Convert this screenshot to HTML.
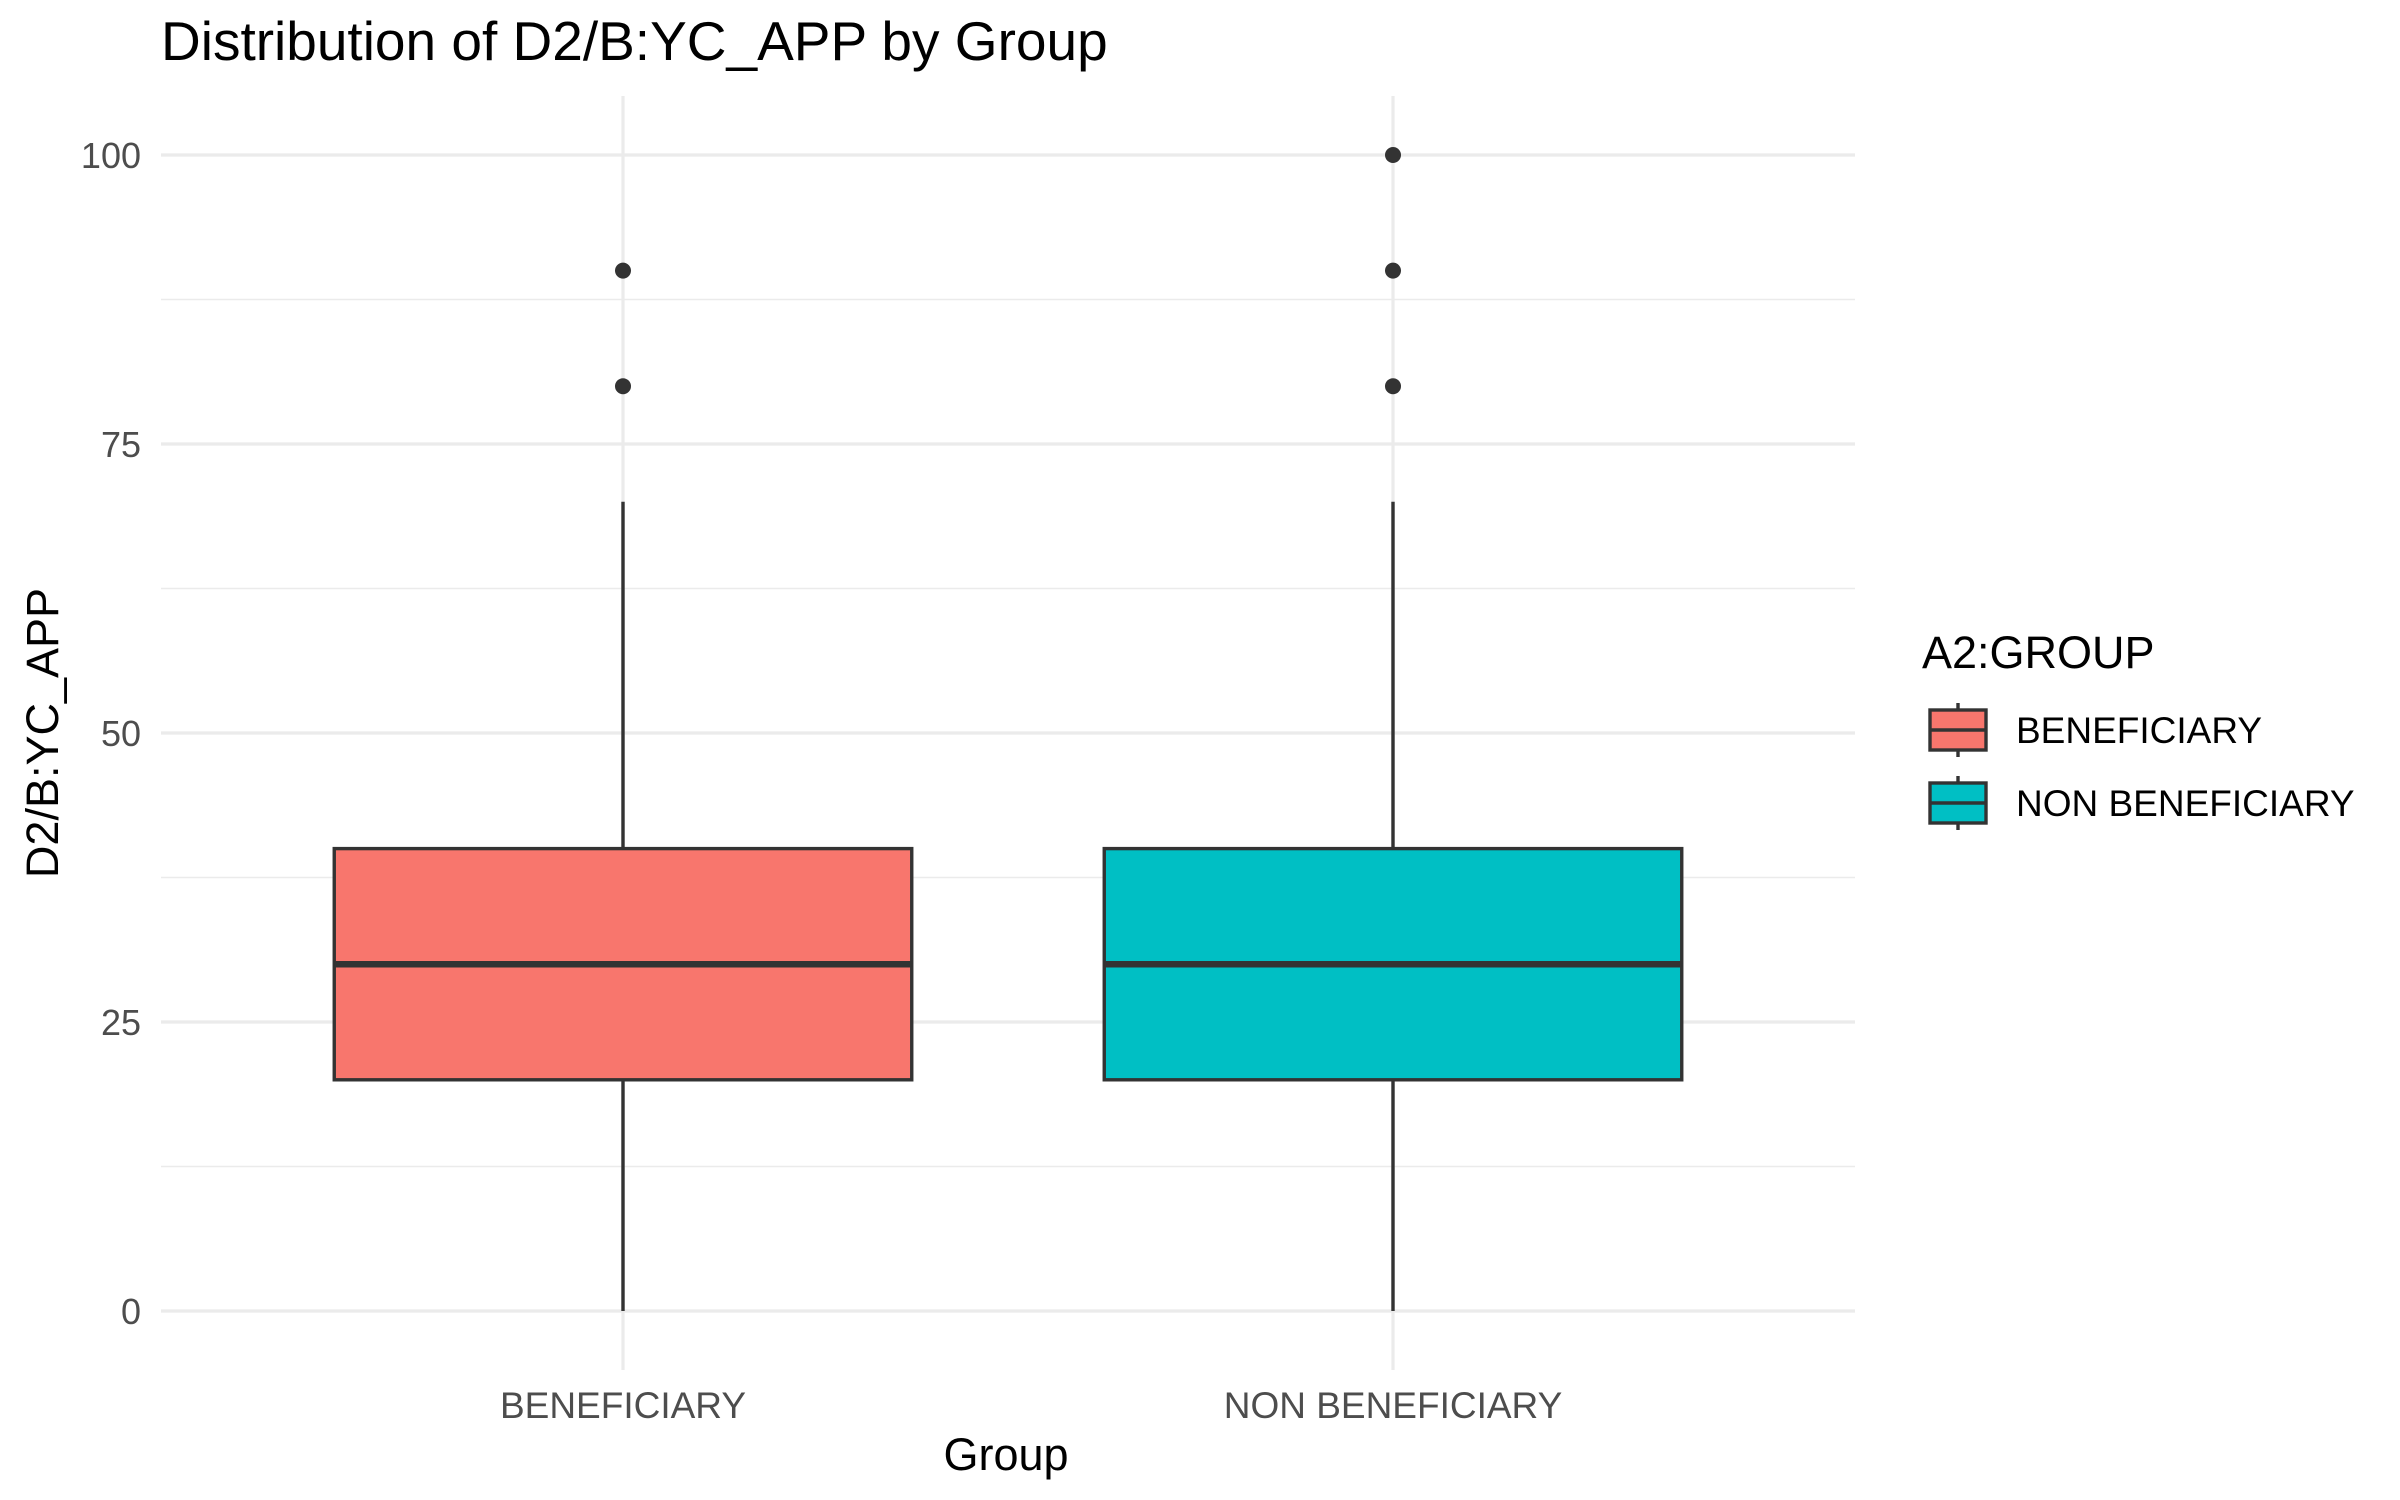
<!DOCTYPE html>
<html><head><meta charset="utf-8"><style>
body{margin:0;background:#fff;}
svg{display:block;font-family:"Liberation Sans",Arial,sans-serif;}
</style></head><body>
<svg id="chart" width="2400" height="1500" viewBox="0 0 2400 1500">
<rect width="2400" height="1500" fill="#fff"/>
<text x="161" y="60" font-size="55" fill="#000">Distribution of D2/B:YC_APP by Group</text>
<g id="grid"></g>
<g id="marks"></g>
<g id="axes"></g>
<text x="1006" y="1470" font-size="45" text-anchor="middle" fill="#000">Group</text>
<text transform="translate(58,733) rotate(-90)" font-size="45" text-anchor="middle" fill="#000">D2/B:YC_APP</text>
<g id="legend">
<text x="1922" y="668" font-size="45" fill="#000">A2:GROUP</text>
</g>
</svg>
<script>
const categories=["BENEFICIARY","NON BENEFICIARY"];
const colors=["#F8766D","#00BFC4"];
const lowerWhisker=[0,0];
const q1=[20,20];
const medians=[30,30];
const q3=[40,40];
const upperWhisker=[70,70];
const outliers=[[80,90],[80,90,100]];
const yTicks=[0,25,50,75,100];
const yMinor=[12.5,37.5,62.5,87.5];

const NS="http://www.w3.org/2000/svg";
const px0=161,px1=1855,py0=1311,py100=155;
function y(v){return py0+(py100-py0)*v/100;}
function xc(i){const n=categories.length;const lo=1-0.6,hi=n+0.6;return px0+(i+1-lo)/(hi-lo)*(px1-px0);}
const boxW=(xc(1)-xc(0))*0.75;
function mk(tag,attrs,parent){const e=document.createElementNS(NS,tag);for(const k in attrs)e.setAttribute(k,attrs[k]);parent.appendChild(e);return e;}
const grid=document.getElementById('grid'),marks=document.getElementById('marks'),axes=document.getElementById('axes'),legend=document.getElementById('legend');
yMinor.forEach(v=>{const l=mk('line',{x1:px0,x2:px1,y1:y(v),y2:y(v),stroke:'#EBEBEB','stroke-width':1.6},grid);

});
yTicks.forEach(v=>{const l=mk('line',{x1:px0,x2:px1,y1:y(v),y2:y(v),stroke:'#EBEBEB','stroke-width':3.2},grid);


const t=mk('text',{x:141,y:y(v)+13,'font-size':36,'text-anchor':'end',fill:'#4D4D4D'},axes);t.textContent=v;

});
categories.forEach((c,i)=>{const cx=xc(i);
const g=mk('line',{x1:cx,x2:cx,y1:96,y2:1370,stroke:'#EBEBEB','stroke-width':3.2},grid);


const t=mk('text',{x:cx,y:1418,'font-size':37,'text-anchor':'middle',fill:'#4D4D4D'},axes);t.textContent=c;


const w=mk('line',{x1:cx,x2:cx,y1:y(lowerWhisker[i]),y2:y(upperWhisker[i]),stroke:'#333','stroke-width':3.4},marks);


const b=mk('rect',{x:cx-boxW/2,y:y(q3[i]),width:boxW,height:y(q1[i])-y(q3[i]),fill:colors[i],stroke:'#333','stroke-width':3.4},marks);


const m=mk('line',{x1:cx-boxW/2,x2:cx+boxW/2,y1:y(medians[i]),y2:y(medians[i]),stroke:'#333','stroke-width':6.5},marks);


outliers[i].forEach(v=>{const p=mk('circle',{cx:cx,cy:y(v),r:8,fill:'#333'},marks);

});
const ky=710+i*73;
const kl=mk('line',{x1:1958,x2:1958,y1:ky-7,y2:ky+47,stroke:'#333','stroke-width':3.4},legend);


const kr=mk('rect',{x:1930,y:ky,width:56,height:40,fill:colors[i],stroke:'#333','stroke-width':3.4},legend);


const km=mk('line',{x1:1930,x2:1986,y1:ky+20,y2:ky+20,stroke:'#333','stroke-width':3.4},legend);


const lt=mk('text',{x:2016,y:ky+33,'font-size':37,fill:'#000'},legend);lt.textContent=c;


});
</script>
</body></html>
